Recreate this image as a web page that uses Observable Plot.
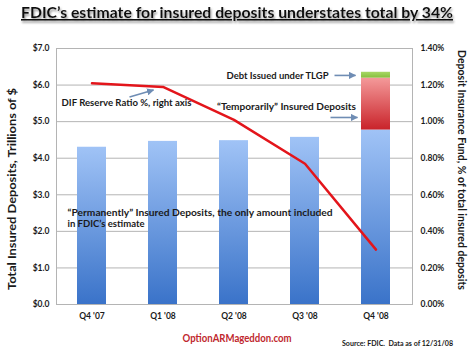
<!DOCTYPE html>
<html>
<head>
<meta charset="utf-8">
<script src="https://cdn.jsdelivr.net/npm/d3@7"></script>
<script src="https://cdn.jsdelivr.net/npm/@observablehq/plot@0.6"></script>
<style>
  html, body { margin: 0; padding: 0; background: #fff; }
  #chart svg { display: block; }
</style>
</head>
<body>
<div id="chart"></div>
<script>
// ---- data ----
const quarters = ["Q4 '07", "Q1 '08", "Q2 '08", "Q3 '08", "Q4 '08"];
const permanentlyInsured = [4.30, 4.46, 4.48, 4.57, 4.77];   // $ trillions
const temporarilyInsured = [0, 0, 0, 0, 1.42];
const tlgpDebt = [0, 0, 0, 0, 0.16];
const difReserveRatio = [1.21, 1.19, 1.01, 0.77, 0.30];      // % of insured deposits
const leftTicks = [0, 1, 2, 3, 4, 5, 6, 7];
const leftTickLabels = ["$0.0", "$1.0", "$2.0", "$3.0", "$4.0", "$5.0", "$6.0", "$7.0"];
const rightTickLabels = ["0.00%", "0.20%", "0.40%", "0.60%", "0.80%", "1.00%", "1.20%", "1.40%"];
const rightPerLeft = 0.2; // 1.40% on right axis == $7.0 on left axis

// ---- build tables ----
const rows = [];
quarters.forEach((q, i) => {
  rows.push({q, type: "perm", v: permanentlyInsured[i]});
  if (temporarilyInsured[i]) rows.push({q, type: "temp", v: temporarilyInsured[i]});
  if (tlgpDebt[i]) rows.push({q, type: "tlgp", v: tlgpDebt[i]});
});
const fills = {perm: "url(#gBlue)", temp: "url(#gRed)", tlgp: "url(#gGreen)"};
const lineData = quarters.map((q, i) => ({q, pct: difReserveRatio[i]}));

const font = "Lato, 'Open Sans', sans-serif";
const ink = "#1a1a1a";

const plot = Plot.plot({
  width: 474,
  height: 355,
  marginTop: 48,
  marginBottom: 51,
  marginLeft: 56,
  marginRight: 62,
  style: {fontFamily: font, background: "#fff", color: ink},
  x: {domain: quarters, paddingInner: 0.59, paddingOuter: 0.295},
  y: {domain: [0, 7]},
  color: {type: "identity"},
  marks: [
    Plot.gridY(leftTicks, {stroke: "#b4b4b4", strokeOpacity: 1}),
    Plot.barY(rows, {x: "q", y: "v", fill: d => fills[d.type]}),
    Plot.line(lineData, {x: "q", y: d => d.pct / rightPerLeft, stroke: "#e3151b", strokeWidth: 2.5, strokeLinejoin: "miter"}),
    Plot.frame({stroke: "#b4b4b4"}),
    Plot.axisY(leftTicks, {anchor: "left", tickSize: 0, tickPadding: 7, label: null,
      tickFormat: d => leftTickLabels[leftTicks.indexOf(d)], fontSize: 8.5, fontWeight: "bold", fill: ink}),
    Plot.axisY(leftTicks, {anchor: "right", tickSize: 0, tickPadding: 8, label: null,
      tickFormat: d => rightTickLabels[leftTicks.indexOf(d)], fontSize: 8.5, fontWeight: "bold", fill: ink}),
    Plot.axisX({tickSize: 0, tickPadding: 8, label: null, fontSize: 8.5, fontWeight: "bold", fill: ink})
  ]
});

const svg = d3.select(plot);
const defs = svg.insert("defs", ":first-child");
function grad(id, top, bottom) {
  const g = defs.append("linearGradient").attr("id", id)
    .attr("x1", 0).attr("y1", 0).attr("x2", 0).attr("y2", 1);
  g.append("stop").attr("offset", "0%").attr("stop-color", top);
  g.append("stop").attr("offset", "100%").attr("stop-color", bottom);
}
grad("gBlue", "#a0c3f6", "#3a73c9");
grad("gRed", "#f49a9a", "#c9232a");
grad("gGreen", "#a8d866", "#86bf3d");
defs.append("marker").attr("id", "ah").attr("viewBox", "0 0 10 10")
  .attr("refX", 9).attr("refY", 5).attr("markerWidth", 4.5).attr("markerHeight", 4.5)
  .attr("orient", "auto").append("path").attr("d", "M0,0L10,5L0,10z").attr("fill", "#6f8db4");
const sh = defs.append("filter").attr("id", "shadow").attr("x", "-5%").attr("y", "-30%").attr("width", "110%").attr("height", "180%");
sh.append("feDropShadow").attr("dx", 1).attr("dy", 2).attr("stdDeviation", 1.2).attr("flood-color", "#777").attr("flood-opacity", 0.8);

// annotations and arrows positioned through the plot's scales
const xs = plot.scale("x"), ys = plot.scale("y");
const cx = q => xs.apply(q) + xs.bandwidth / 2;
const notes = [
  {text: "DIF Reserve Ratio %, right axis", q: 0, dx: -30, y: 5.50, anchor: "start", len: 130},
  {text: "Debt Issued under TLGP", q: 4, dx: -47, y: 6.235, anchor: "end", len: 102},
  {text: "\u201CTemporarily\u201D Insured Deposits", q: 4, dx: -19.5, y: 5.40, anchor: "end", len: 139},
  {text: "\u201CPermanently\u201D Insured Deposits, the only amount included", q: 0, dx: -24, y: 2.49, anchor: "start", len: 265},
  {text: "in FDIC\u2019s estimate", q: 0, dx: -24, y: 2.20, anchor: "start", len: 77}
];
svg.append("g").selectAll("text").data(notes).join("text")
  .attr("x", d => cx(quarters[d.q]) + d.dx).attr("y", d => ys.apply(d.y)).attr("dy", "0.36em")
  .attr("text-anchor", d => d.anchor)
  .attr("font-family", font).attr("font-size", 9.5).attr("font-weight", "bold").attr("fill", ink)
  .attr("textLength", d => d.len).attr("lengthAdjust", "spacingAndGlyphs")
  .text(d => d.text);

const arrows = [
  [cx(quarters[0]) + 38, ys.apply(5.66), cx(quarters[0]) + 62, ys.apply(5.85)],
  [cx(quarters[4]) - 41, ys.apply(6.25), cx(quarters[4]) - 20, ys.apply(6.25)],
  [cx(quarters[4]) - 45, ys.apply(5.10), cx(quarters[4]) - 18, ys.apply(5.10)]
];
svg.append("g").selectAll("line").data(arrows).join("line")
  .attr("x1", d => d[0]).attr("y1", d => d[1]).attr("x2", d => d[2]).attr("y2", d => d[3])
  .attr("stroke", "#6f8db4").attr("stroke-width", 1.6).attr("marker-end", "url(#ah)");

// titles
svg.append("text").attr("x", 237).attr("y", 18).attr("text-anchor", "middle")
  .attr("font-family", font).attr("font-size", 16).attr("font-weight", "bold").attr("fill", "#111")
  .attr("text-decoration", "underline").attr("filter", "url(#shadow)")
  .attr("textLength", 432).attr("lengthAdjust", "spacingAndGlyphs")
  .text("FDIC\u2019s estimate for insured deposits understates total by 34%");
svg.append("text").attr("transform", "translate(16,189) rotate(-90)").attr("text-anchor", "middle")
  .attr("font-family", font).attr("font-size", 11).attr("font-weight", "bold").attr("fill", ink)
  .attr("textLength", 202).attr("lengthAdjust", "spacingAndGlyphs")
  .text("Total Insured Deposits, Trillions of $");
svg.append("text").attr("transform", "translate(458,170) rotate(90)").attr("text-anchor", "middle")
  .attr("font-family", font).attr("font-size", 10.5).attr("font-weight", "bold").attr("fill", ink)
  .attr("textLength", 240).attr("lengthAdjust", "spacingAndGlyphs")
  .text("Deposit Insurance Fund, % of total insured deposits");
svg.append("text").attr("x", 237).attr("y", 342).attr("text-anchor", "middle")
  .attr("font-family", font).attr("font-size", 11).attr("font-weight", "bold").attr("fill", "#c0272d")
  .attr("textLength", 109).attr("lengthAdjust", "spacingAndGlyphs")
  .text("OptionARMageddon.com");
svg.append("text").attr("x", 453).attr("y", 346).attr("text-anchor", "end")
  .attr("font-family", font).attr("font-size", 7.5).attr("font-weight", "bold").attr("fill", ink)
  .attr("textLength", 111).attr("lengthAdjust", "spacingAndGlyphs")
  .style("white-space", "pre")
  .text("Source: FDIC.  Data as of 12/31/08");

document.getElementById("chart").appendChild(plot);
</script>
</body>
</html>
